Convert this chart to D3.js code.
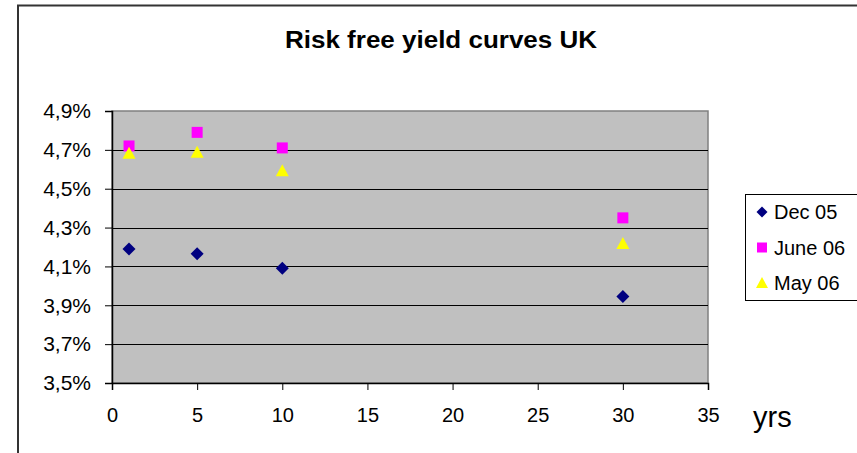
<!DOCTYPE html>
<html>
<head>
<meta charset="utf-8">
<script src="https://cdn.jsdelivr.net/npm/d3@7"></script>
<style>
  html, body { margin: 0; padding: 0; background: #fff; }
  svg { display: block; }
  text { font-family: "Liberation Sans", Arial, sans-serif; fill: #000; }
</style>
</head>
<body>
<svg id="chart" width="857" height="453"></svg>
<script>
const title = "Risk free yield curves UK";
const maturities = [1, 5, 10, 30];
const seriesNames = ["Dec 05", "June 06", "May 06"];
const dec05 = [4.19, 4.165, 4.09, 3.945];
const june06 = [4.72, 4.79, 4.71, 4.35];
const may06 = [4.68, 4.685, 4.59, 4.215];
const yTicks = [3.5, 3.7, 3.9, 4.1, 4.3, 4.5, 4.7, 4.9];
const xTicks = [0, 5, 10, 15, 20, 25, 30, 35];
const xLabel = "yrs";

const series = [
  { name: seriesNames[0], values: dec05, shape: "diamond", color: "#000080" },
  { name: seriesNames[1], values: june06, shape: "square", color: "#FF00FF" },
  { name: seriesNames[2], values: may06, shape: "triangle", color: "#FFFF00" }
];

const svg = d3.select("#chart");
const plot = { left: 112, top: 111, right: 708, bottom: 383 };

const x = d3.scaleLinear().domain([0, 35]).range([plot.left, plot.right]);
const y = d3.scaleLinear().domain([3.5, 4.9]).range([plot.bottom, plot.top]);

// outer frame (left and top edges)
svg.append("path")
  .attr("d", `M18,453 L18,5.5 L857,5.5`)
  .attr("fill", "none").attr("stroke", "#333").attr("stroke-width", 2);

// title
svg.append("text")
  .attr("x", 441).attr("y", 48)
  .attr("text-anchor", "middle")
  .attr("font-size", 23).attr("font-weight", "bold")
  .attr("textLength", 312).attr("lengthAdjust", "spacingAndGlyphs")
  .text(title);

// plot background
svg.append("rect")
  .attr("x", plot.left).attr("y", plot.top)
  .attr("width", plot.right - plot.left).attr("height", plot.bottom - plot.top)
  .attr("fill", "#C0C0C0").attr("stroke", "#808080").attr("stroke-width", 1.5);

// gridlines
svg.append("g").selectAll("line")
  .data(yTicks.slice(1, -1))
  .join("line")
  .attr("x1", plot.left).attr("x2", plot.right)
  .attr("y1", d => Math.round(y(d)) + 0.5).attr("y2", d => Math.round(y(d)) + 0.5)
  .attr("stroke", "#000").attr("stroke-width", 1);

// y axis
const yAxis = d3.axisLeft(y).tickValues(yTicks)
  .tickFormat(d => d.toFixed(1).replace(".", ",") + "%")
  .tickSize(7).tickPadding(14);
const gy = svg.append("g").attr("transform", `translate(${plot.left},0)`).call(yAxis);
gy.select(".domain").attr("stroke", "#000").attr("stroke-width", 1.5);
gy.selectAll(".tick line").attr("stroke", "#000");
gy.selectAll(".tick text").attr("font-size", 21).attr("font-family", "Liberation Sans, Arial, sans-serif").attr("fill", "#000");

// x axis
const xAxis = d3.axisBottom(x).tickValues(xTicks).tickSize(7).tickPadding(18);
const gx = svg.append("g").attr("transform", `translate(0,${plot.bottom})`).call(xAxis);
gx.select(".domain").attr("stroke", "#000").attr("stroke-width", 1.5);
gx.selectAll(".tick line").attr("stroke", "#000");
gx.selectAll(".tick text").attr("font-size", 20).attr("font-family", "Liberation Sans, Arial, sans-serif").attr("fill", "#000");

svg.append("text")
  .attr("x", 753).attr("y", 427)
  .attr("font-size", 29)
  .text(xLabel);

// markers
function markerPath(shape) {
  if (shape === "diamond") return "M0,-6.5L6.5,0L0,6.5L-6.5,0Z";
  if (shape === "square") return "M-5.5,-5.5H5.5V5.5H-5.5Z";
  return "M0,-7L6.5,5L-6.5,5Z";
}

series.forEach(s => {
  svg.append("g").selectAll("path")
    .data(maturities.map((m, i) => ({ m, v: s.values[i] })))
    .join("path")
    .attr("transform", d => `translate(${x(d.m)},${y(d.v)})`)
    .attr("d", markerPath(s.shape))
    .attr("fill", s.color);
});

// legend
const legend = svg.append("g");
legend.append("rect")
  .attr("x", 745.5).attr("y", 194.5).attr("width", 112).attr("height", 106)
  .attr("fill", "#fff").attr("stroke", "#000").attr("stroke-width", 1);
const ly = [212, 247.5, 283];
series.forEach((s, i) => {
  legend.append("path")
    .attr("transform", `translate(762,${ly[i]})`)
    .attr("d", s.shape === "diamond" ? "M0,-5.5L5.5,0L0,5.5L-5.5,0Z" : s.shape === "square" ? "M-5,-5H5V5H-5Z" : "M0,-6L6,5L-6,5Z")
    .attr("fill", s.color);
  legend.append("text")
    .attr("x", 774).attr("y", ly[i] + 7)
    .attr("font-size", 20)
    .text(s.name);
});
</script>
</body>
</html>
